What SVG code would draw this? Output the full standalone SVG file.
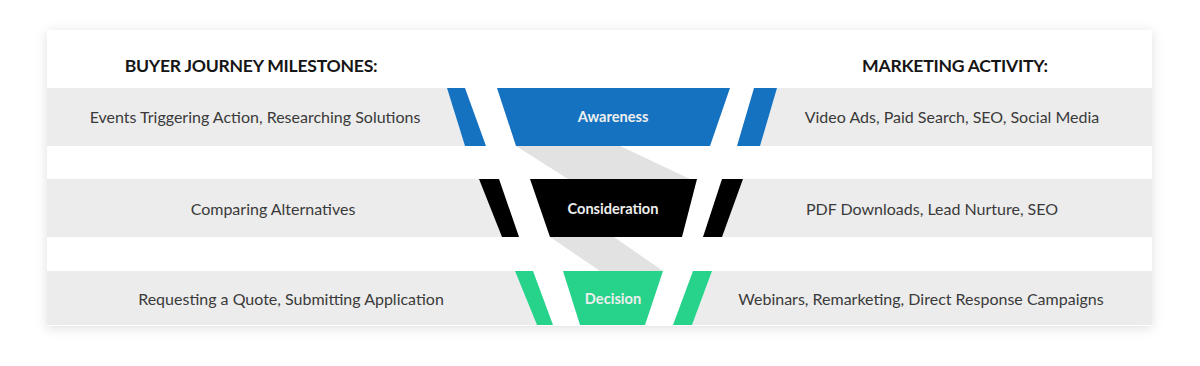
<svg xmlns="http://www.w3.org/2000/svg" width="1200" height="366" viewBox="0 0 1200 366">
<defs>
<filter id="cardShadow" x="-5%" y="-15%" width="110%" height="130%">
<feDropShadow dx="0" dy="2" stdDeviation="6" flood-color="#000" flood-opacity="0.13"/>
</filter>
<style>
.row{fill:#ececec}
.gap{fill:#ffffff}
.band{fill:#e2e2e2}
.hdr{font-family:Lato,"Liberation Sans",sans-serif;font-weight:bold;font-size:17.6px;fill:#161616;text-anchor:middle;letter-spacing:-0.25px}
.txt{font-family:Lato,"Liberation Sans",sans-serif;font-size:16px;fill:#3a3a3a;text-anchor:middle}
.stage{font-family:Lato,"Liberation Sans",sans-serif;font-weight:bold;font-size:14.6px;fill:#eeeeee;text-anchor:middle}
.blue{fill:#1572c1}
.black{fill:#000000}
.green{fill:#27d38b}
</style>
</defs>
<rect width="1200" height="366" fill="#ffffff"/>
<rect id="card" x="47" y="30" width="1105" height="296" fill="#ffffff" filter="url(#cardShadow)"/>

<g id="rows">
<rect class="row" x="47" y="88" width="1105" height="58"/>
<rect class="row" x="47" y="179" width="1105" height="58"/>
<rect class="row" x="47" y="271" width="1105" height="54"/>
<polygon class="gap" points="447,88 777,88 760,146 465,146"/>
<polygon class="gap" points="479,179 743,179 722,237 502,237"/>
<polygon class="gap" points="515,271 712,271 692,325 537,325"/>
</g>

<g id="connectors">
<polygon class="band" points="516,146 620,146 690,179 568,179"/>
<polygon class="band" points="550,237 614,237 663,271 600,271"/>
</g>

<g id="header-milestones"><text class="hdr" x="251" y="72">BUYER JOURNEY MILESTONES:</text></g>
<g id="header-activity"><text class="hdr" x="955" y="72">MARKETING ACTIVITY:</text></g>

<g id="milestone-1"><text class="txt" x="255" y="122.5">Events Triggering Action, Researching Solutions</text></g>
<g id="milestone-2"><text class="txt" x="273" y="214.5">Comparing Alternatives</text></g>
<g id="milestone-3"><text class="txt" x="291" y="304.5">Requesting a Quote, Submitting Application</text></g>

<g id="activity-1"><text class="txt" x="952" y="122.5">Video Ads, Paid Search, SEO, Social Media</text></g>
<g id="activity-2"><text class="txt" x="932" y="214.5">PDF Downloads, Lead Nurture, SEO</text></g>
<g id="activity-3"><text class="txt" x="921" y="304.5">Webinars, Remarketing, Direct Response Campaigns</text></g>

<g id="stage-awareness">
<polygon class="blue" points="447,88 465,88 486,146 465,146"/>
<polygon class="blue" points="497,88 730,88 710,146 516,146"/>
<polygon class="blue" points="754,88 777,88 760,146 737,146"/>
<text class="stage" x="613" y="122">Awareness</text>
</g>

<g id="stage-consideration">
<polygon class="black" points="479,179 499,179 519,237 502,237"/>
<polygon class="black" points="530,179 697,179 682,237 550,237"/>
<polygon class="black" points="722,179 743,179 722,237 703,237"/>
<text class="stage" x="613" y="214">Consideration</text>
</g>

<g id="stage-decision">
<polygon class="green" points="515,271 533,271 553,325 537,325"/>
<polygon class="green" points="563,271 663,271 645,325 580,325"/>
<polygon class="green" points="693,271 712,271 692,325 673,325"/>
<text class="stage" x="613" y="304">Decision</text>
</g>
</svg>
